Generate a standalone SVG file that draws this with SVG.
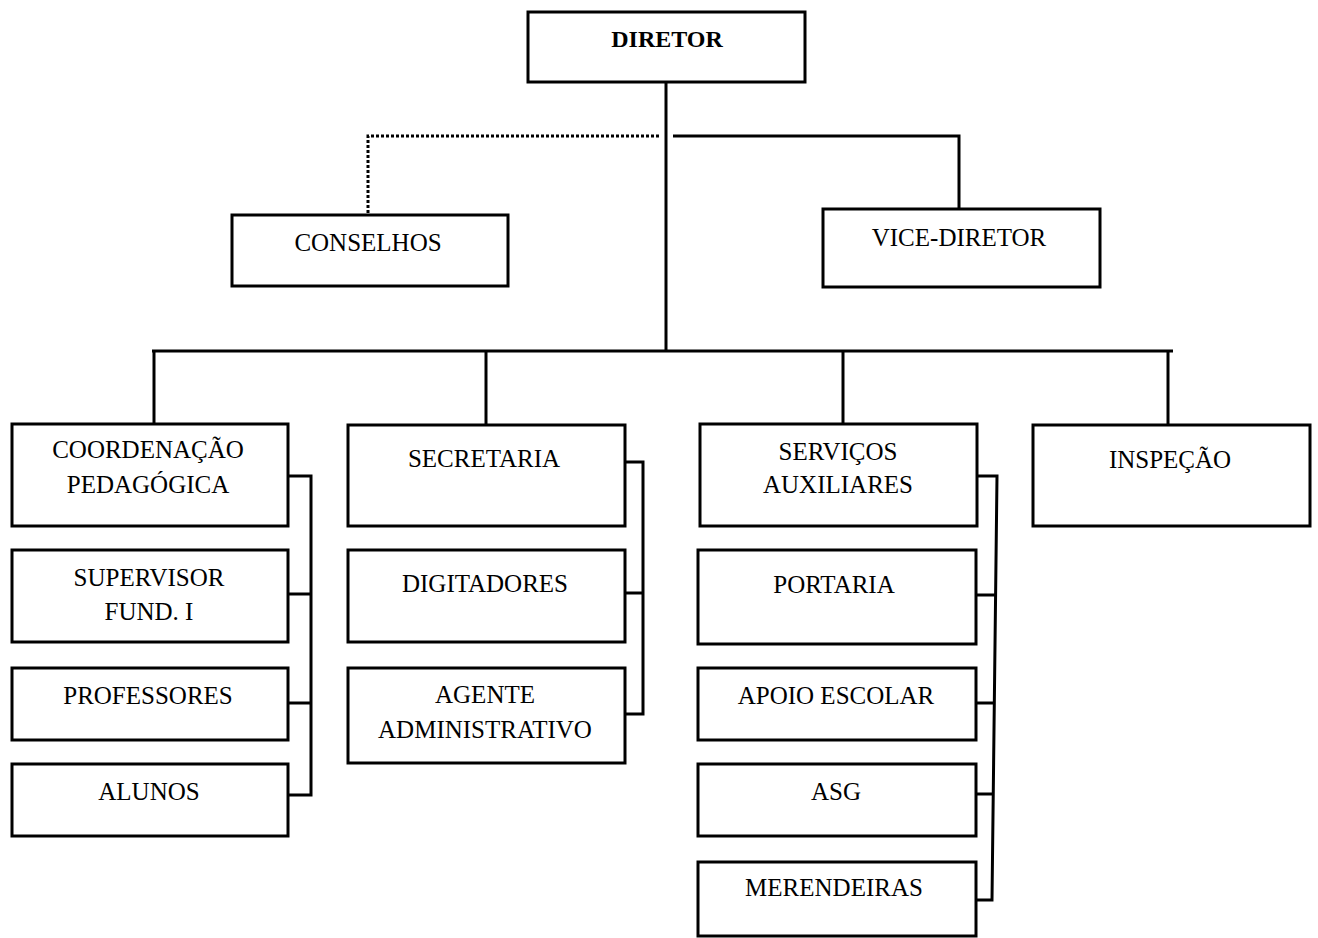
<svg xmlns="http://www.w3.org/2000/svg" width="1318" height="938" viewBox="0 0 1318 938">
<style>
.box{fill:#fff;stroke:#000;stroke-width:3}
.t{font-family:"Liberation Serif","Times New Roman",serif;font-size:25px;fill:#000;text-anchor:middle}
.tb{font-family:"Liberation Serif","Times New Roman",serif;font-size:24px;font-weight:bold;fill:#000;text-anchor:middle}
.ln{fill:none;stroke:#000;stroke-width:3}
.dot{fill:none;stroke:#000;stroke-width:3;stroke-dasharray:3 2}
</style>
<rect width="1318" height="938" fill="#fff"/>
<g id="connectors">
<polyline class="dot" points="368,213 368,136 661,136"/>
<line class="ln" x1="666" y1="82" x2="666" y2="351"/>
<polyline class="ln" points="673,136 959,136 959,209"/>
<line class="ln" x1="152" y1="351" x2="1173" y2="351"/>
<line class="ln" x1="154" y1="351" x2="154" y2="424"/>
<line class="ln" x1="486" y1="351" x2="486" y2="425"/>
<line class="ln" x1="843" y1="351" x2="843" y2="424"/>
<line class="ln" x1="1168" y1="351" x2="1168" y2="425"/>
<polyline class="ln" points="288,476 311,476 311,795 288,795"/>
<line class="ln" x1="288" y1="594" x2="311" y2="594"/>
<line class="ln" x1="288" y1="703" x2="311" y2="703"/>
<polyline class="ln" points="625,462 643,462 643,714 625,714"/>
<line class="ln" x1="625" y1="593" x2="643" y2="593"/>
<polyline class="ln" points="977,476 997,476 992,900 976,900"/>
<line class="ln" x1="976" y1="595" x2="996" y2="595"/>
<line class="ln" x1="976" y1="703" x2="995" y2="703"/>
<line class="ln" x1="976" y1="794" x2="994" y2="794"/>
</g>
<g id="diretor"><rect class="box" x="528" y="12" width="277" height="70"/><text class="tb" x="667" y="47">DIRETOR</text></g>
<g id="conselhos"><rect class="box" x="232" y="215" width="276" height="71"/><text class="t" x="368" y="251">CONSELHOS</text></g>
<g id="vice-diretor"><rect class="box" x="823" y="209" width="277" height="78"/><text class="t" x="959" y="246">VICE-DIRETOR</text></g>
<g id="coordenacao"><rect class="box" x="12" y="424" width="276" height="102"/><text class="t" x="148" y="458">COORDENAÇÃO</text><text class="t" x="148" y="493">PEDAGÓGICA</text></g>
<g id="supervisor"><rect class="box" x="12" y="550" width="276" height="92"/><text class="t" x="149" y="586">SUPERVISOR</text><text class="t" x="149" y="620">FUND. I</text></g>
<g id="professores"><rect class="box" x="12" y="668" width="276" height="72"/><text class="t" x="148" y="704">PROFESSORES</text></g>
<g id="alunos"><rect class="box" x="12" y="764" width="276" height="72"/><text class="t" x="149" y="800">ALUNOS</text></g>
<g id="secretaria"><rect class="box" x="348" y="425" width="277" height="101"/><text class="t" x="484" y="467">SECRETARIA</text></g>
<g id="digitadores"><rect class="box" x="348" y="550" width="277" height="92"/><text class="t" x="485" y="592">DIGITADORES</text></g>
<g id="agente"><rect class="box" x="348" y="668" width="277" height="95"/><text class="t" x="485" y="703">AGENTE</text><text class="t" x="485" y="738">ADMINISTRATIVO</text></g>
<g id="servicos"><rect class="box" x="700" y="424" width="277" height="102"/><text class="t" x="838" y="460">SERVIÇOS</text><text class="t" x="838" y="493">AUXILIARES</text></g>
<g id="portaria"><rect class="box" x="698" y="550" width="278" height="94"/><text class="t" x="834" y="593">PORTARIA</text></g>
<g id="apoio"><rect class="box" x="698" y="668" width="278" height="72"/><text class="t" x="836" y="704">APOIO ESCOLAR</text></g>
<g id="asg"><rect class="box" x="698" y="764" width="278" height="72"/><text class="t" x="836" y="800">ASG</text></g>
<g id="merendeiras"><rect class="box" x="698" y="862" width="278" height="74"/><text class="t" x="834" y="896">MERENDEIRAS</text></g>
<g id="inspecao"><rect class="box" x="1033" y="425" width="277" height="101"/><text class="t" x="1170" y="468">INSPEÇÃO</text></g>
</svg>
